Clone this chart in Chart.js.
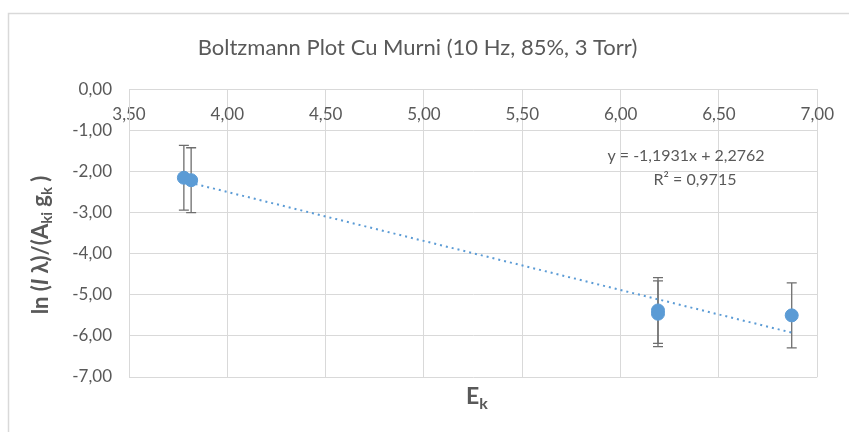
<!DOCTYPE html>
<html>
<head>
<meta charset="utf-8">
<script src="https://cdn.jsdelivr.net/npm/chart.js@4.4.1/dist/chart.umd.min.js"></script>
<style>
  html, body { margin: 0; padding: 0; background: #ffffff; }
  #wrap { width: 849px; height: 432px; }
</style>
</head>
<body>
<div id="wrap"><canvas id="chart" width="849" height="432"></canvas></div>
<script>
// values
const energies = [3.779, 3.816, 6.19, 6.19, 6.87];
const lnValues = [-2.15, -2.21, -5.38, -5.46, -5.50];
const errors = [0.79, 0.79, 0.8, 0.8, 0.79];

// Excel linear trendline, as printed on the chart
const slope = -1.1931;
const intercept = 2.2762;
const rSquared = 0.9715;

const xTicks = [3.5, 4, 4.5, 5, 5.5, 6, 6.5, 7];
const yTicks = [0, -1, -2, -3, -4, -5, -6, -7];

const chartTitle = "Boltzmann Plot Cu Murni (10 Hz, 85%, 3 Torr)";

const FONT = "Lato, 'Open Sans', sans-serif";
const TEXT = "#595959";
const GRID = "#d9d9d9";
const BLUE = "#5b9bd5";

const comma = (v, d) => v.toFixed(d).replace(".", ",");

const points = energies.map((e, i) => ({ x: e, y: lnValues[i] }));
const xMin = Math.min(...energies);
const xMax = Math.max(...energies);
const trend = [
  { x: xMin, y: slope * xMin + intercept },
  { x: xMax, y: slope * xMax + intercept },
];

// draws text with subscripts: parts = [[text, isSub, italic]]
function drawParts(ctx, parts, size) {
  const fontFor = (sub, it) => (it ? "italic " : "") + "bold " + (sub ? Math.round(size * 0.68) : size) + "px " + FONT;
  let total = 0;
  parts.forEach(([t, sub, it]) => {
    ctx.font = fontFor(sub, it);
    total += ctx.measureText(t).width;
  });
  let x = -total / 2;
  parts.forEach(([t, sub, it]) => {
    ctx.font = fontFor(sub, it);
    ctx.fillText(t, x, sub ? size * 0.28 : 0);
    x += ctx.measureText(t).width;
  });
}

const extras = {
  id: "extras",
  beforeDraw(chart) {
    const ctx = chart.ctx;
    ctx.save();
    ctx.strokeStyle = GRID;
    ctx.lineWidth = 1.5;
    ctx.strokeRect(8.5, 13.5, 860, 440);
    ctx.restore();
  },
  beforeDatasetsDraw(chart) {
    const ctx = chart.ctx;
    const xs = chart.scales.x, ys = chart.scales.y;
    ctx.save();
    ctx.strokeStyle = "#6e6e6e";
    ctx.lineWidth = 1.3;
    points.forEach((p, i) => {
      const px = xs.getPixelForValue(p.x);
      const top = ys.getPixelForValue(p.y + errors[i]);
      const bot = ys.getPixelForValue(p.y - errors[i]);
      ctx.beginPath();
      ctx.moveTo(px, top); ctx.lineTo(px, bot);
      ctx.moveTo(px - 5, top); ctx.lineTo(px + 5, top);
      ctx.moveTo(px - 5, bot); ctx.lineTo(px + 5, bot);
      ctx.stroke();
    });
    ctx.restore();
  },
  afterDraw(chart) {
    const ctx = chart.ctx;
    const area = chart.chartArea;
    ctx.save();
    ctx.fillStyle = TEXT;
    ctx.textBaseline = "middle";
    // x axis title
    ctx.save();
    ctx.translate(477, 397);
    drawParts(ctx, [["E", false], ["k", true]], 23);
    ctx.restore();
    // y axis title
    ctx.save();
    ctx.translate(41, 245);
    ctx.rotate(-Math.PI / 2);
    drawParts(ctx, [["ln (", false], ["I", false, true], [" λ)/(A", false], ["ki", true], [" g", false], ["k", true], [" )", false]], 22);
    ctx.restore();
    // trendline label
    ctx.font = "16px " + FONT;
    ctx.textAlign = "center";
    ctx.fillText("y = " + comma(slope, 4) + "x + " + comma(intercept, 4), 686, 156);
    ctx.fillText("R² = " + comma(rSquared, 4), 695, 180);
    ctx.restore();
  },
};

new Chart(document.getElementById("chart"), {
  type: "scatter",
  data: {
    datasets: [
      {
        label: "data",
        data: points,
        backgroundColor: BLUE,
        borderColor: BLUE,
        pointRadius: 6.5,
        pointHoverRadius: 6.5,
      },
      {
        label: "trend",
        type: "line",
        data: trend,
        borderColor: BLUE,
        borderWidth: 2,
        borderDash: [2, 4],
        pointRadius: 0,
        fill: false,
      },
    ],
  },
  options: {
    responsive: false,
    animation: false,
    events: [],
    layout: { padding: { left: 12, right: 26, top: 0, bottom: 55 } },
    plugins: {
      legend: { display: false },
      tooltip: { enabled: false },
      title: {
        display: true,
        text: chartTitle,
        color: TEXT,
        font: { family: FONT, size: 22, weight: "normal", lineHeight: 1.2 },
        padding: { top: 35, bottom: 28 },
      },
    },
    scales: {
      x: {
        type: "linear",
        position: { y: 0 },
        min: 3.5,
        max: 7,
        afterBuildTicks: (s) => { s.ticks = xTicks.map((v) => ({ value: v })); },
        grid: { color: GRID, drawTicks: false },
        border: { color: GRID },
        ticks: {
          color: TEXT,
          font: { family: FONT, size: 17 },
          padding: 15,
          maxRotation: 0,
          callback: (v) => comma(v, 2),
        },
      },
      y: {
        min: -7,
        max: 0,
        afterBuildTicks: (s) => { s.ticks = yTicks.map((v) => ({ value: v })); },
        afterFit: (s) => { s.width = 117; },
        grid: { color: GRID, drawTicks: false },
        border: { color: GRID },
        ticks: {
          color: TEXT,
          font: { family: FONT, size: 17 },
          padding: 17,
          callback: (v) => comma(v, 2),
        },
      },
    },
  },
  plugins: [extras],
});
</script>
</body>
</html>
